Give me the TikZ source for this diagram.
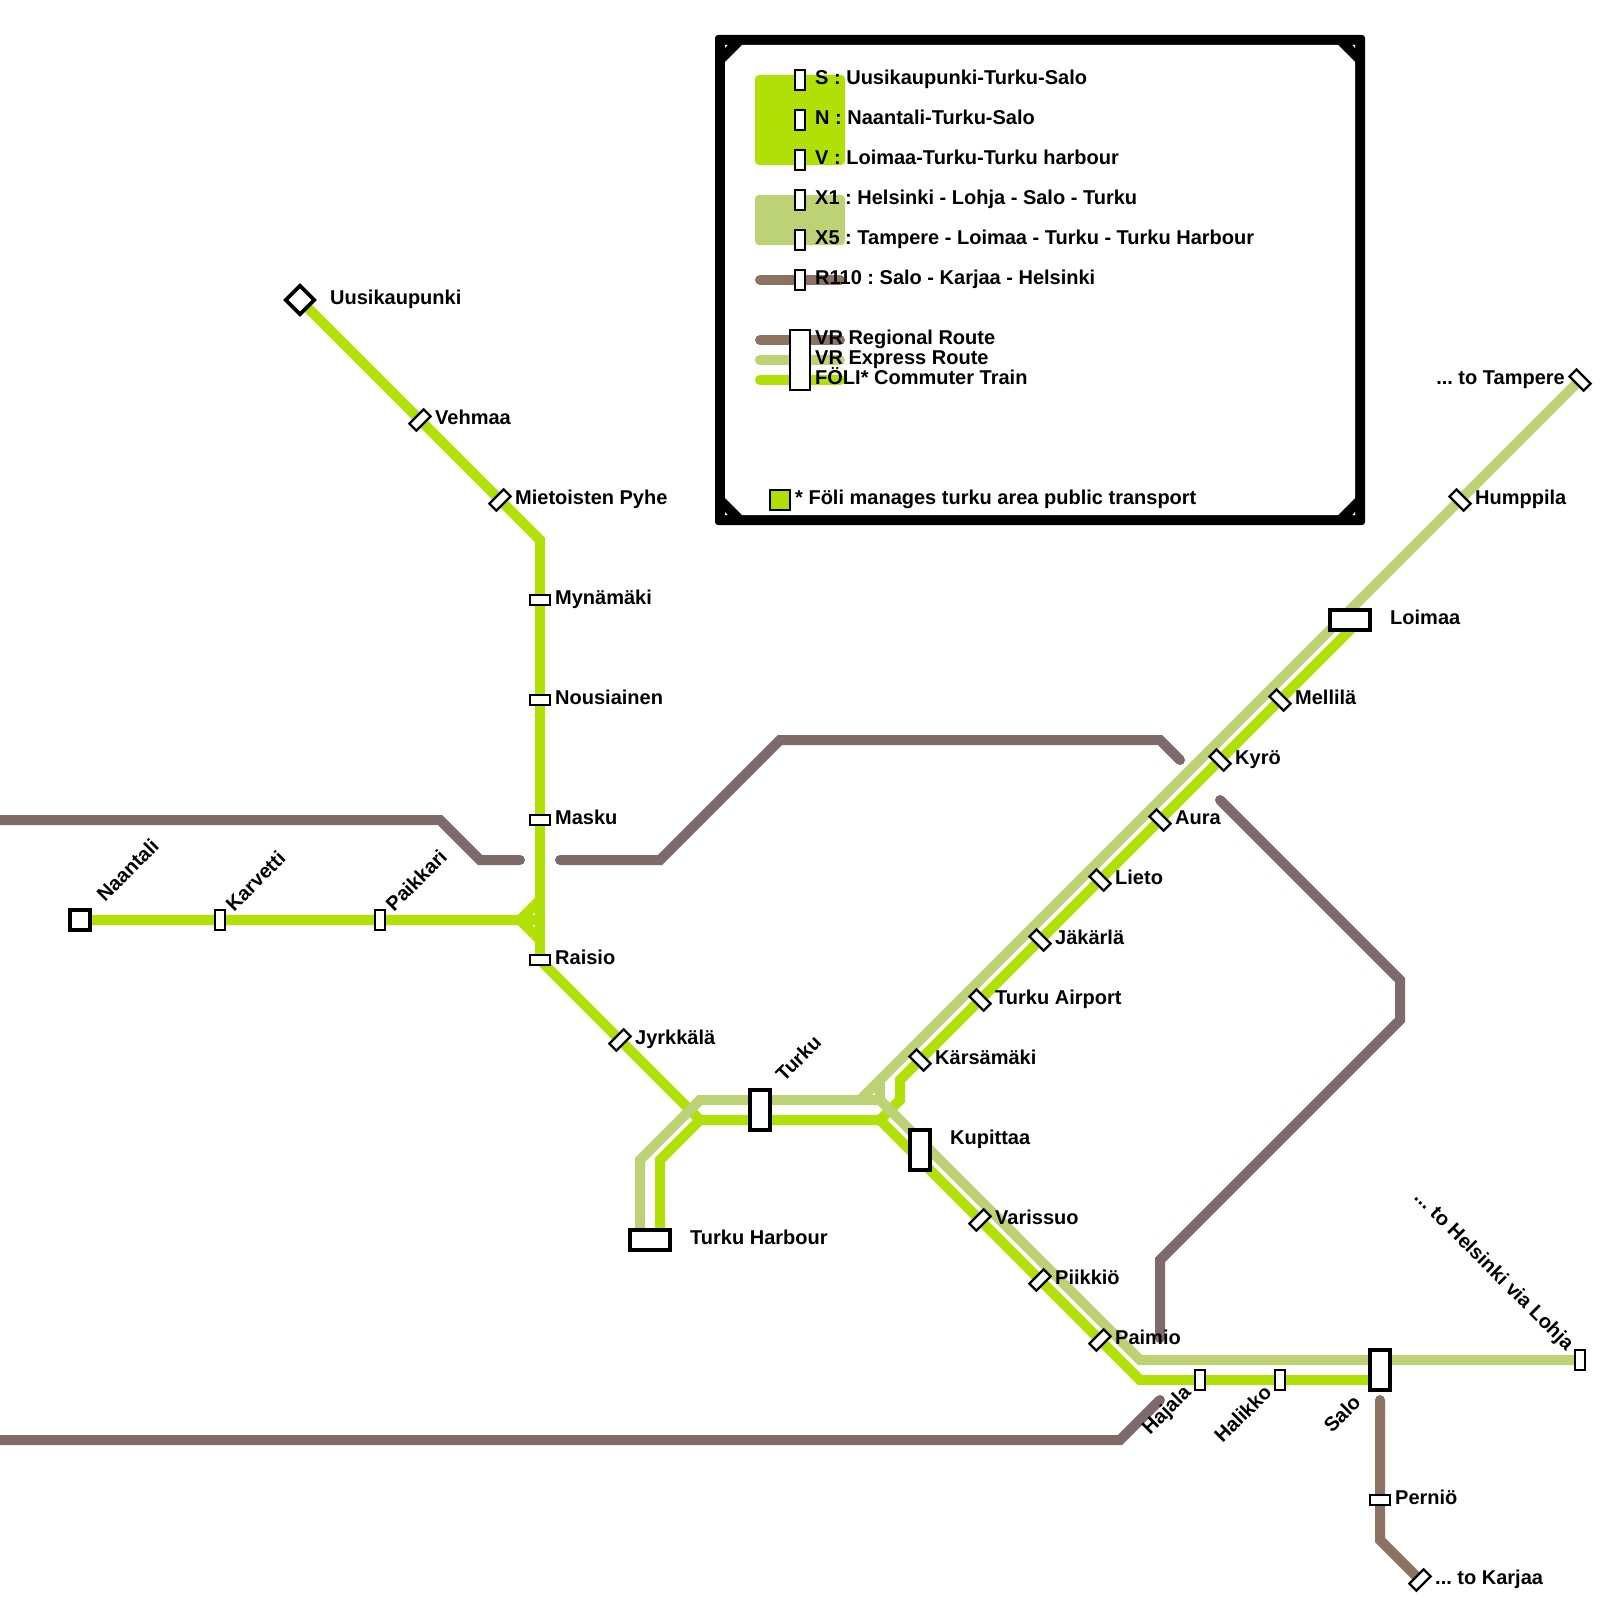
\documentclass[tikz,border=0pt]{standalone}
\usepackage{fontspec}
\setmainfont{Liberation Sans}
\usetikzlibrary{positioning}
\pgfdeclarelayer{rails}
\pgfsetlayers{rails,main}
\definecolor{foli}{HTML}{B0E006}
\definecolor{express}{HTML}{BDD275}
\definecolor{regional}{HTML}{8C7361}
\definecolor{track}{HTML}{7D6B6B}
\frenchspacing
\tikzset{
  rail/.style={line width=10pt, line join=miter, miter limit=10},
  oldline/.style={rail, track, line cap=round},
  stn/.style={draw=black, fill=white, line width=2.3pt, inner sep=0, outer sep=0},
  stnh/.style={stn, minimum width=20pt, minimum height=10pt},
  stnv/.style={stn, minimum width=10pt, minimum height=20pt},
  big/.style={stn, line width=3.7pt},
  bigh/.style={big, minimum width=40pt, minimum height=20pt},
  bigv/.style={big, minimum width=20pt, minimum height=40pt},
  lbl/.style={anchor=base west, inner sep=0, yshift=0.5pt, font=\fontsize{20}{24}\bfseries\selectfont},
  lble/.style={lbl, anchor=base east},
}
\begin{document}
\begin{tikzpicture}[x=1pt, y=-1pt]
  \useasboundingbox (0,0) rectangle (1600,1600);
  % Legend frame
  \fill[black, rounded corners=3pt] (715,35) rectangle (1365,525);
  \fill[white] (725,62) -- (742,45) -- (1338,45) -- (1355,62) -- (1355,498) -- (1338,515) -- (742,515) -- (725,498) -- cycle;
  \fill[white] (725,45) -- (727.5,45) -- (725,48) -- cycle;
  \fill[white] (1355,45) -- (1352.5,45) -- (1355,48) -- cycle;
  \fill[white] (725,515) -- (727.5,515) -- (725,512) -- cycle;
  \fill[white] (1355,515) -- (1352.5,515) -- (1355,512) -- cycle;
  % Legend colour blocks
  \fill[foli, rounded corners=4pt] (755,75) rectangle (845,165);
  \fill[express, rounded corners=4pt] (755,195) rectangle (845,245);
  \draw[rail, regional, line cap=round] (760,280) coordinate (rstart) -- (840,280) coordinate (rend);
  \draw[rail, regional, line cap=round] (760,340) coordinate (vstart) -- (840,340) coordinate (vend);
  \draw[rail, express, line cap=round] (760,360) coordinate (xstart) -- (840,360) coordinate (xend);
  \draw[rail, foli, line cap=round] (760,380) coordinate (fstart) -- (840,380) coordinate (fend);
  % Legend stations
  \foreach \y/\name in {80/legs, 120/legn, 160/legv, 200/legx, 240/legy, 280/legr}
    \node[stnv] (\name) at (800,\y) {};
  \node[stn, minimum width=20pt, minimum height=60pt] (legbig) at (800,360) {};
  \node[stn, fill=foli, minimum width=20pt, minimum height=20pt] (legfoli) at (780,500) {};
  % Legend texts
  \node[lbl] (txts) at (815,85) {S : Uusikaupunki-Turku-Salo};
  \node[lbl] (txtn) at (815,125) {N : Naantali-Turku-Salo};
  \node[lbl] (txtv) at (815,165) {V : Loimaa-Turku-Turku harbour};
  \node[lbl] (txtx) at (815,205) {X1 : Helsinki - Lohja - Salo - Turku};
  \node[lbl] (txty) at (815,245) {X5 : Tampere - Loimaa - Turku - Turku Harbour};
  \node[lbl] (txtr) at (815,285) {R110 : Salo - Karjaa - Helsinki};
  \node[lbl] (txta) at (815,345) {VR Regional Route};
  \node[lbl] (txtb) at (815,365) {VR Express Route};
  \node[lbl] (txtc) at (815,385) {FÖLI* Commuter Train};
  \node[lbl] (txtd) at (795,505) {* Föli manages turku area public transport};
  % Stations north
  \node[big, rotate=45, minimum width=20pt, minimum height=20pt] (uusi) at (300,300) {};
  \node[stnh, rotate=45] (vehmaa) at (420,420) {};
  \node[stnh, rotate=45] (mieto) at (500,500) {};
  \node[stnh] (myna) at (540,600) {};
  \node[stnh] (nousi) at (540,700) {};
  \node[stnh] (masku) at (540,820) {};
  \node[stnh] (raisio) at (540,960) {};
  \node[stnh, rotate=45] (jyrk) at (620,1040) {};
  % Stations west
  \node[big, minimum width=20pt, minimum height=20pt] (naant) at (80,920) {};
  \node[stnv] (karv) at (220,920) {};
  \node[stnv] (paik) at (380,920) {};
  % Stations centre
  \node[bigv] (turku) at (760,1110) {};
  \node[bigh] (harb) at (650,1240) {};
  \node[bigv] (kupit) at (920,1150) {};
  % Stations to Tampere
  \node[stnh, rotate=-45] (kars) at (920,1060) {};
  \node[stnh, rotate=-45] (airp) at (980,1000) {};
  \node[stnh, rotate=-45] (jaka) at (1040,940) {};
  \node[stnh, rotate=-45] (lieto) at (1100,880) {};
  \node[stnh, rotate=-45] (aura) at (1160,820) {};
  \node[stnh, rotate=-45] (kyro) at (1220,760) {};
  \node[stnh, rotate=-45] (melli) at (1280,700) {};
  \node[bigh] (loimaa) at (1350,620) {};
  \node[stnh, rotate=-45] (humpp) at (1460,500) {};
  \node[stnh, rotate=-45] (tamp) at (1580,380) {};
  % Stations to Salo
  \node[stnh, rotate=45] (vari) at (980,1220) {};
  \node[stnh, rotate=45] (piik) at (1040,1280) {};
  \node[stnh, rotate=45] (paimio) at (1100,1340) {};
  \node[stnv] (hajala) at (1200,1380) {};
  \node[stnv] (halik) at (1280,1380) {};
  \node[bigv] (salo) at (1380,1370) {};
  \node[stnv] (hels) at (1580,1360) {};
  \node[stnh] (pernio) at (1380,1500) {};
  \node[stnh, rotate=45] (karj) at (1420,1580) {};
  % Rails go under the stations
  \begin{pgfonlayer}{rails}
    % Old unused tracks
    \draw[oldline] (0,820) -- (440,820) -- (480,860) -- (520,860);
    \draw[oldline] (560,860) -- (660,860) -- (780,740) -- (1160,740) -- (1180,760);
    \draw[oldline] (1220,800) -- (1400,980) -- (1400,1020) -- (1160,1260) -- (1160,1338);
    \draw[oldline] (0,1440) -- (1120,1440) -- (1160,1400);
    % Regional
    \draw[rail, regional, line cap=round] (1380,1400) -- (pernio.center) -- (1380,1540) -- (karj.center);
    % Foli
    \draw[rail, foli] (uusi.center) -- (mieto.center) -- (540,540) -- (raisio.center) -- (jyrk.center) -- (700,1120) -- (880,1120) -- (piik.center) -- (1140,1380) -- (1380,1380);
    \draw[rail, foli] (naant.center) -- (520,920) -- (540,900);
    \draw[rail, foli] (520,920) -- (540,940);
    \draw[rail, foli] (520,920) -- (540,920);
    \draw[rail, foli] (harb.center -| 660,0) -- (660,1160) -- (700,1120);
    \draw[rail, foli] (880,1120) -- (900,1100) -- (900,1080) -- (kars.center) -- (1360,620);
    % Express
    \draw[rail, express] (640,1240) -- (640,1160) -- (700,1100) -- (880,1100) -- (1140,1360) -- (hels.center);
    \draw[rail, express] (860,1100) -- (tamp.center);
    \draw[rail, express] (880,1080) -- (880,1100);
  \end{pgfonlayer}
  % Labels
  \node[lbl] (luusi) at (330,305) {Uusikaupunki};
  \node[lbl] (lvehmaa) at (435,425) {Vehmaa};
  \node[lbl] (lmieto) at (515,505) {Mietoisten Pyhe};
  \node[lbl] (lmyna) at (555,605) {Mynämäki};
  \node[lbl] (lnousi) at (555,705) {Nousiainen};
  \node[lbl] (lmasku) at (555,825) {Masku};
  \node[lbl] (lraisio) at (555,965) {Raisio};
  \node[lbl] (ljyrk) at (635,1045) {Jyrkkälä};
  \node[lbl, rotate=45] (lnaant) at (105,903) {Naantali};
  \node[lbl, rotate=45] (lkarv) at (234,913) {Karvetti};
  \node[lbl, rotate=45] (lpaik) at (394,913) {Paikkari};
  \node[lbl, rotate=45] (lturku) at (784,1083) {Turku};
  \node[lbl] (lharb) at (690,1245) {Turku Harbour};
  \node[lbl] (lkupit) at (950,1145) {Kupittaa};
  \node[lbl] (lkars) at (935,1065) {Kärsämäki};
  \node[lbl] (lairp) at (995,1005) {Turku Airport};
  \node[lbl] (ljaka) at (1055,945) {Jäkärlä};
  \node[lbl] (llieto) at (1115,885) {Lieto};
  \node[lbl] (laura) at (1175,825) {Aura};
  \node[lbl] (lkyro) at (1235,765) {Kyrö};
  \node[lbl] (lmelli) at (1295,705) {Mellilä};
  \node[lbl] (lloimaa) at (1390,625) {Loimaa};
  \node[lbl] (lhumpp) at (1475,505) {Humppila};
  \node[lble] (ltamp) at (1565,385) {... to Tampere};
  \node[lbl] (lvari) at (995,1225) {Varissuo};
  \node[lbl] (lpiik) at (1055,1285) {Piikkiö};
  \node[lbl] (lpaimio) at (1115,1345) {Paimio};
  \node[lble, rotate=45] (lhajala) at (1192,1394) {Hajala};
  \node[lble, rotate=45] (lhalik) at (1273,1394) {Halikko};
  \node[lble, rotate=45] (lsalo) at (1362,1404) {Salo};
  \node[lble, rotate=-45] (lhels) at (1566,1352) {... to Helsinki via Lohja};
  \node[lbl] (lpernio) at (1395,1505) {Perniö};
  \node[lbl] (lkarj) at (1435,1585) {... to Karjaa};
\end{tikzpicture}
\end{document}
